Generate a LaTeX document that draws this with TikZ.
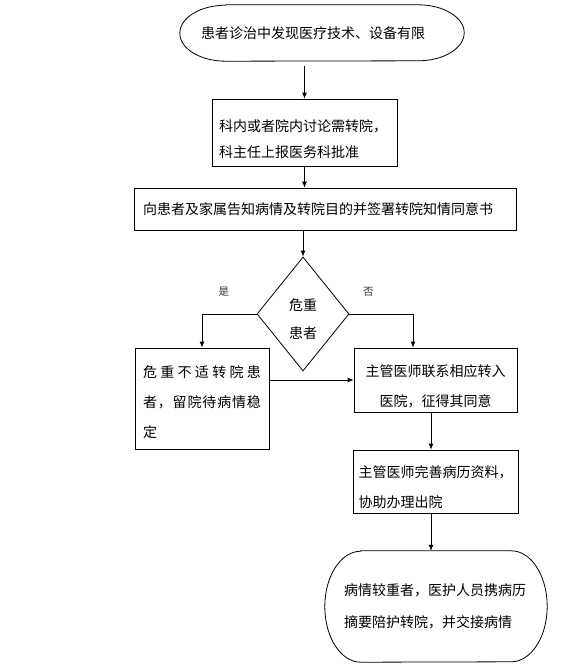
\documentclass[tikz,border=0pt]{standalone}
\usepackage{fontspec}
\setmainfont{Noto Sans CJK SC}
\usepackage{tikz}
\usetikzlibrary{shapes,arrows,arrows.meta}
\usetikzlibrary{positioning}
\tikzset{every node/.style={font=\fontsize{14pt}{30pt}\selectfont},
process/.style={draw, rectangle, line width=0.8pt, inner ysep=0pt, align=left},
decision/.style={draw, diamond, line width=0.8pt, inner sep=0pt,
  minimum width=92pt, minimum height=114pt, align=center},
terminal/.style={rectangle, inner ysep=0pt, align=left},
answer/.style={font=\fontsize{10.5pt}{12pt}\selectfont, text=black!80}
}
\newcommand{\terminalline}[3]{%
  \draw[line width=0.8pt] ([xshift=#2]#1.north west) -- ([xshift=-#2]#1.north east)
    arc[start angle=90, end angle=-90, x radius=#2, y radius=#3]
    -- ([xshift=#2]#1.south west)
    arc[start angle=270, end angle=90, x radius=#2, y radius=#3] -- cycle;}
\newcommand{\lowertext}[1]{\rule{0pt}{#1}}

\begin{document}
\begin{tikzpicture}[on grid, >={Latex[length=6pt,width=5pt]}]
  \useasboundingbox (0,0) rectangle (586pt,-667pt);

  \node[terminal, text width=242pt, inner xsep=21pt, minimum height=56pt]
       (start) at (322pt,-33pt) {患者诊治中发现医疗技术、设备有限};
  \node[process, text width=171pt, inner xsep=7pt, minimum height=67pt,
        font=\fontsize{14pt}{26pt}\selectfont]
       (discuss) [below=99.5pt of start, xshift=-17.5pt]
       {\lowertext{26pt}科内或者院内讨论需转院，\\科主任上报医务科批准};
  \node[process, text width=364pt, inner xsep=9pt, minimum height=42pt]
       (inform) [below=76.5pt of discuss, xshift=20.5pt]
       {向患者及家属告知病情及转院目的并签署转院知情同意书};
  \node[decision, font=\fontsize{14pt}{28pt}\selectfont]
       (danger) [below=105pt of inform, xshift=-22pt] {\lowertext{22pt}危重\\患者};
  \node[process, text width=118pt, inner xsep=8pt, minimum height=101pt]
       (stay) [below left=84.5pt and 101pt of danger]
       {\lowertext{19pt}\makebox[118pt][s]{危\hfil 重\hfil 不\hfil 适\hfil 转\hfil 院\hfil 患}\\
        \makebox[118pt][s]{者\hfil ，\hfil 留\hfil 院\hfil 待\hfil 病\hfil 情\hfil 稳}\\定};
  \node[process, text width=147pt, inner xsep=8pt, minimum height=64pt, align=center]
       (contact) [below right=66pt and 132.5pt of danger]
       {\lowertext{25pt}主管医师联系相应转入\\医院，征得其同意};
  \node[process, text width=154pt, inner xsep=5.5pt, minimum height=63pt]
       (records) [below=101.5pt of contact]
       {\lowertext{23pt}主管医师完善病历资料，\\协助办理出院};
  \node[terminal, text width=184pt, inner xsep=19pt, minimum height=111pt,
        font=\fontsize{14pt}{32pt}\selectfont]
       (escort) [below=125pt of records, xshift=0.5pt]
       {病情较重者，医护人员携病历\\摘要陪护转院，并交接病情};

  \terminalline{start}{46pt}{28pt}
  \terminalline{escort}{36pt}{55.5pt}

  \path[->, line width=0.8pt]
    ([yshift=-5pt]start.south -| discuss.north) edge (discuss.north)
    (discuss.south) edge (discuss.south |- inform.north)
    (inform.south -| danger.north) edge (danger.north)
    (stay.east |- contact.west) edge (contact.west)
    ([xshift=-4.5pt]contact.south) edge ([xshift=-4.5pt]records.north)
    ([xshift=-4.5pt]records.south) edge ([xshift=-4.5pt]records.south |- escort.north);
  \draw[->, line width=0.8pt] (danger.west) -| (stay.north)
       node[answer, pos=0.3, yshift=22pt] {是};
  \draw[->, line width=0.8pt] (danger.east) -| ([xshift=-22.5pt]contact.north)
       node[answer, pos=0.15, yshift=22pt] {否};
\end{tikzpicture}
\end{document}
